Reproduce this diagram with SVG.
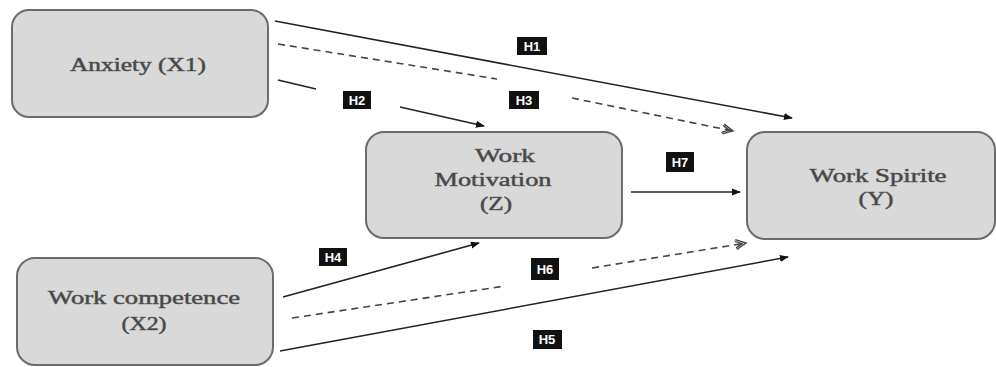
<svg xmlns="http://www.w3.org/2000/svg" width="996" height="367" viewBox="0 0 996 367">
<style>
.node{fill:#d9d9d9;stroke:#6b6b6b;stroke-width:2}
.t{font-family:"Liberation Serif","Times New Roman",serif;font-size:18px;fill:#444;stroke:#555;stroke-width:0.5;text-anchor:middle}
.c{stroke:#222;stroke-width:1.6;fill:none}
.d{stroke:#444;stroke-width:1.6;fill:none;stroke-dasharray:7 5}
.lb{fill:#111}
.lt{font-family:"Liberation Sans",Arial,sans-serif;font-size:13px;font-weight:bold;fill:#fff;text-anchor:middle}
</style>
<defs>
<marker id="ar" viewBox="0 0 10 10" refX="9" refY="5" markerWidth="9" markerHeight="9" markerUnits="userSpaceOnUse" orient="auto">
<path d="M0,1 L10,5 L0,9 z" fill="#111"/>
</marker>
<marker id="oa" viewBox="0 0 12 12" refX="11" refY="6" markerWidth="12" markerHeight="12" markerUnits="userSpaceOnUse" orient="auto">
<path d="M1,1 L11,6 L1,11 M-3,1 L7,6 L-3,11" fill="none" stroke="#444" stroke-width="1.4"/>
</marker>
</defs>
<rect width="996" height="367" fill="#fff"/>
<g id="connectors">
<line class="c" x1="275" y1="21" x2="792" y2="118" marker-end="url(#ar)"/>
<line class="d" x1="278" y1="44" x2="497" y2="79"/>
<line class="d" x1="572" y1="98" x2="733" y2="131" marker-end="url(#oa)"/>
<line class="c" x1="278" y1="80" x2="316" y2="89"/>
<line class="c" x1="400" y1="107" x2="484" y2="126" marker-end="url(#ar)"/>
<line class="c" x1="631" y1="192" x2="740" y2="192" marker-end="url(#ar)"/>
<line class="c" x1="283" y1="297" x2="479" y2="243" marker-end="url(#ar)"/>
<line class="d" x1="292" y1="318" x2="505" y2="286"/>
<line class="d" x1="592" y1="268" x2="746" y2="243" marker-end="url(#oa)"/>
<line class="c" x1="280" y1="351" x2="788" y2="257" marker-end="url(#ar)"/>
</g>
<g id="labels">
<g id="H1"><rect class="lb" x="517" y="37" width="30" height="18"/><text class="lt" x="532" y="51">H1</text></g>
<g id="H2"><rect class="lb" x="343" y="91" width="28" height="18"/><text class="lt" x="357" y="105">H2</text></g>
<g id="H3"><rect class="lb" x="509" y="91" width="30" height="18"/><text class="lt" x="524" y="105">H3</text></g>
<g id="H7"><rect class="lb" x="666" y="152" width="28" height="20"/><text class="lt" x="680" y="167">H7</text></g>
<g id="H4"><rect class="lb" x="319" y="248" width="28" height="18"/><text class="lt" x="333" y="262">H4</text></g>
<g id="H6"><rect class="lb" x="531" y="258" width="28" height="22"/><text class="lt" x="545" y="274">H6</text></g>
<g id="H5"><rect class="lb" x="533" y="330" width="29" height="19"/><text class="lt" x="547" y="344">H5</text></g>
</g>
<g id="anxiety">
<rect class="node" x="12" y="10" width="256" height="107" rx="17"/>
<text class="t" x="138" y="71" textLength="136" lengthAdjust="spacingAndGlyphs">Anxiety (X1)</text>
</g>
<g id="motivation">
<rect class="node" x="366" y="132" width="256" height="106" rx="18"/>
<text class="t" x="505" y="162" textLength="60" lengthAdjust="spacingAndGlyphs">Work</text>
<text class="t" x="493" y="186" textLength="117" lengthAdjust="spacingAndGlyphs">Motivation</text>
<text class="t" x="496" y="210" textLength="32" lengthAdjust="spacingAndGlyphs">(Z)</text>
</g>
<g id="spirite">
<rect class="node" x="747" y="132" width="248" height="107" rx="18"/>
<text class="t" x="878" y="182" textLength="137" lengthAdjust="spacingAndGlyphs">Work Spirite</text>
<text class="t" x="876" y="205" textLength="35" lengthAdjust="spacingAndGlyphs">(Y)</text>
</g>
<g id="competence">
<rect class="node" x="17" y="258" width="256" height="107" rx="18"/>
<text class="t" x="144" y="304" textLength="192" lengthAdjust="spacingAndGlyphs">Work competence</text>
<text class="t" x="144" y="330" textLength="45" lengthAdjust="spacingAndGlyphs">(X2)</text>
</g>
</svg>
